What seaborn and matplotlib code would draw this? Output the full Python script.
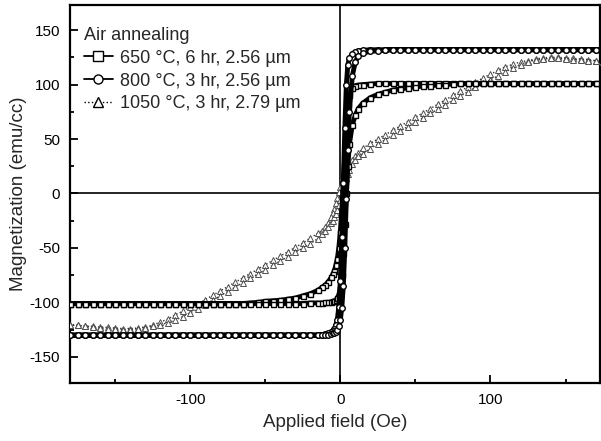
import numpy as np
import pandas as pd
import matplotlib
matplotlib.use('Agg')
import matplotlib.pyplot as plt
from matplotlib.lines import Line2D
from matplotlib.ticker import MultipleLocator
import seaborn as sns

# applied field grid (Oe), shared by every branch
# rows: 12, 13, 9, 19, 18, 15 points
field = [-180, -175, -170, -165, -160, -155, -150, -145, -140, -135, -130, -125,
         -120, -115, -110, -105, -100, -95, -90, -85, -80, -75, -70, -65, -60,
         -55, -50, -45, -40, -35, -30, -25, -20, -15,
         -12, -10, -8, -6, -5, -4, -3, -2, -1, 0, 1, 2, 3, 4, 5, 6, 8, 10, 12,
         15, 20, 25, 30, 35, 40, 45, 50, 55, 60, 65, 70, 75, 80, 85, 90, 95, 100,
         105, 110, 115, 120, 125, 130, 135, 140, 145, 150, 155, 160, 165, 170, 175]

# 650 C, 6 hr : upper (descending) and lower (ascending) branches
m650_up = [-101, -101, -101, -101, -101, -101,  -101, -101, -101, -101, -101, -101,
           -101, -101, -101, -101, -101, -101,  -101, -101, -101, -101, -101, -101, -100.5,
           -100, -99, -98.5, -98, -97, -96, -94, -92, -89,
           -86, -84, -81, -77, -74, -71, -66, -60, -50, -35, -15, 10, 35, 60, 80, 90, 97, 99, 99.5,
           100, 100.5, 101, 101, 101, 101,  101, 101, 101, 101, 101, 101,  101, 101, 101, 101, 101, 101,
           101, 101, 101, 101, 101,  101, 101, 101, 101, 101,  101, 101, 101, 101, 101]
m650_dn = [-101, -101, -101, -101, -101, -101,  -101, -101, -101, -101, -101, -101,
           -101, -101, -101, -101, -101, -101,  -101, -101, -101, -101, -101, -101, -101,
           -101, -101, -101, -101, -101, -101, -101, -100.5, -100.5,
           -100.5, -100, -100, -99.5, -99, -98.5, -98, -96, -93, -87, -75, -55, -28, 0, 25, 45, 63, 72, 78,
           83, 88, 91, 93, 95, 96, 97, 98, 98.5, 99, 99.5, 100, 100.5, 101, 101, 101, 101, 101,
           101, 101, 101, 101, 101,  101, 101, 101, 101, 101,  101, 101, 101, 101, 101]

# 800 C, 3 hr
m800_up = [-130, -130, -130, -130, -130, -130,  -130, -130, -130, -130, -130, -130,
           -130, -130, -130, -130, -130, -130,  -130, -130, -130, -130, -130, -130, -130,
           -130, -130, -130, -130, -130, -130, -130, -130, -130,
           -129.5, -129, -128.5, -127, -126, -124, -121, -116, -104, -80, -40, 10, 60, 100, 118, 124, 128, 130, 131,
           131.5, 132, 132, 132, 132, 132,  132, 132, 132, 132, 132, 132,  132, 132, 132, 132, 132, 132,
           132, 132, 132, 132, 132,  132, 132, 132, 132, 132,  132, 132, 132, 132, 132]
m800_dn = [-130, -130, -130, -130, -130, -130,  -130, -130, -130, -130, -130, -130,
           -130, -130, -130, -130, -130, -130,  -130, -130, -130, -130, -130, -130, -130,
           -130, -130, -130, -130, -130, -130, -130, -130, -130,
           -130, -130, -129.5, -129, -128.5, -128, -127, -125, -122, -116, -105, -85, -50, -5, 40, 75, 108, 121, 126,
           129, 130.5, 131, 131.5, 132, 132,  132, 132, 132, 132, 132, 132,  132, 132, 132, 132, 132, 132,
           132, 132, 132, 132, 132,  132, 132, 132, 132, 132,  132, 132, 132, 132, 132]

# 1050 C, 3 hr
m1050_up = [-120.5, -121, -121.5, -122, -122.5, -123, -123.5, -124, -124, -123.5, -122.5, -121,
            -118, -115.5, -111.5, -108, -104.5, -101, -97.5, -93.5, -89.5, -85.5, -81.5, -77.5, -73.5,
            -69.5, -65.5, -61.5, -57.5, -53.5, -49.5, -45.5, -41, -36.5,
            -34, -31, -27, -22, -18, -14, -9, -4, 1, 6, 11, 15, 19, 22, 25, 27.5, 31, 34, 37,
            41.5, 46, 50, 54, 58, 62, 66, 70, 74, 78, 82, 86, 90, 94, 98, 102, 106, 109.5,
            113, 116.5, 118.5, 121, 122, 123.5, 124.5, 125, 125, 124.5, 124, 123.5, 123, 122, 121]
m1050_dn = [-121, -121, -122, -123, -123.5, -124, -124.5, -125, -125, -124.5, -123.5, -122,
            -121, -118.5, -116.5, -113, -109.5, -106, -102, -98, -94, -90, -86, -82, -78,
            -74, -70, -66, -62, -58, -54, -50, -46, -41.5,
            -37.5, -34, -31, -27.5, -25, -22, -19, -15, -11, -6, -1, 4, 9, 14, 18, 22, 27, 31, 34,
            36.5, 41, 45.5, 49.5, 53.5, 57.5, 61.5, 65.5, 69.5, 73.5, 77.5, 81.5, 85.5, 89.5, 93.5, 97.5, 101, 104.5,
            108, 111.5, 115.5, 118, 121, 122.5, 123.5, 124, 124, 123.5, 123, 122.5, 122, 121.5, 121]

labels = ['650 °C, 6 hr, 2.56 µm', '800 °C, 3 hr, 2.56 µm', '1050 °C, 3 hr, 2.79 µm']

sns.set_style('ticks')
plt.rcParams['font.family'] = ['Liberation Sans', 'DejaVu Sans']
plt.rcParams['axes.unicode_minus'] = False

fig = plt.figure(figsize=(6.01, 4.41), dpi=100)
ax = fig.add_axes([0.1165, 0.1315, 0.8820, 0.8570])

ax.axhline(0, color='k', lw=1.2, zorder=1)
ax.axvline(0, color='k', lw=1.2, zorder=1)


# one closed loop: come down the upper branch, go back up the lower one
def loop(up, dn):
    h = field[::-1] + field
    m = up[::-1] + dn
    return h, m


h, m = loop(m1050_up, m1050_dn)
sns.lineplot(x=h, y=m, sort=False, estimator=None, ax=ax, color='0.2', lw=1.0, ls=':',
             marker='^', markersize=4.5, markerfacecolor='white', markeredgecolor='0.3',
             markeredgewidth=0.7, zorder=3)

h, m = loop(m650_up, m650_dn)
sns.lineplot(x=h, y=m, sort=False, estimator=None, ax=ax, color='k', lw=3.5,
             marker='s', markersize=3.6, markerfacecolor='white', markeredgecolor='k',
             markeredgewidth=1.0, zorder=4)

h, m = loop(m800_up, m800_dn)
sns.lineplot(x=h, y=m, sort=False, estimator=None, ax=ax, color='k', lw=3.5,
             marker='o', markersize=4.0, markerfacecolor='white', markeredgecolor='k',
             markeredgewidth=1.0, zorder=5)

ax.set_xlim(-180, 173)
ax.set_ylim(-174, 173)
ax.xaxis.set_major_locator(MultipleLocator(100))
ax.xaxis.set_minor_locator(MultipleLocator(50))
ax.yaxis.set_major_locator(MultipleLocator(50))
ax.yaxis.set_minor_locator(MultipleLocator(25))
ax.tick_params(which='both', direction='in', width=1.3, labelsize=11, colors='k')
ax.tick_params(which='major', length=6, pad=7)
ax.tick_params(which='minor', length=3)
for s in ax.spines.values():
    s.set_linewidth(1.6)
    s.set_color('k')

ax.set_xlabel('Applied field (Oe)', fontsize=13.5, labelpad=5)
ax.set_ylabel('Magnetization (emu/cc)', fontsize=13.5, labelpad=2)

handles = [
    Line2D([], [], color='k', lw=1.3, marker='s', markersize=6.5, markerfacecolor='white', markeredgecolor='k'),
    Line2D([], [], color='k', lw=1.3, marker='o', markersize=6.5, markerfacecolor='white', markeredgecolor='k'),
    Line2D([], [], color='k', lw=1.0, ls=':', marker='^', markersize=6.5, markerfacecolor='white', markeredgecolor='k'),
]
leg = ax.legend(handles, labels, title='Air annealing', loc='upper left',
                bbox_to_anchor=(-0.005, 0.985), frameon=False, fontsize=13, title_fontsize=13,
                handlelength=1.6, handletextpad=0.4, labelspacing=0.32, alignment='left',
                borderaxespad=0.5)

fig.savefig('out.png', dpi=100)
